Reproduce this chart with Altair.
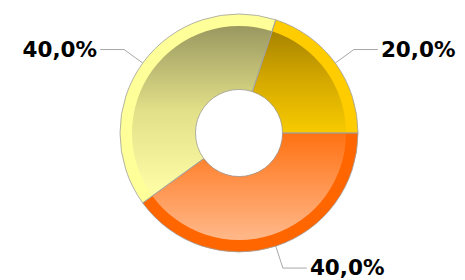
import math
import altair as alt
import pandas as pd

# ---- data ----
slices = ["A", "B", "C"]
values = [40, 40, 20]
band_colors = ["#FF6600", "#FFFF99", "#FFCC00"]
grad_top = ["#FF7212", "#9A9860", "#A88400"]
grad_mid = ["#FF9550", "#E2E088", "#D6AA00"]
grad_bottom = ["#FFB88A", "#FFFFA8", "#F7CA00"]

# ---- layout ----
W, H = 449, 272
CX, CY = 231, 125
R_OUT, R_GRAD, R_IN = 119, 107, 43.5
R_ELBOW = 142
START = math.pi / 2
total = sum(values)

df = pd.DataFrame({"slice": slices, "value": values, "idx": list(range(len(slices)))})

# leader lines + labels derived from slice mid-angles
line_rows, label_rows = [], []
cum = 0
for s, v in zip(slices, values):
    mid = START + 2 * math.pi * (cum + v / 2) / total
    cum += v
    sx, sy = math.sin(mid), -math.cos(mid)
    side = 1 if sx >= 0 else -1
    p0 = (R_OUT * sx, R_OUT * sy)
    p1 = (R_ELBOW * sx, R_ELBOW * sy)
    p2 = (p1[0] + side * 24, p1[1])
    for k, p in enumerate([p0, p1, p2]):
        line_rows.append({"slice": s, "k": k, "x": p[0], "y": p[1]})
    label_rows.append({
        "slice": s, "x": p2[0] + side * 3, "y": p2[1],
        "side": "right" if side > 0 else "left",
        "text": f"{100 * v / total:.1f}".replace(".", ",") + "%",
    })
lines_df = pd.DataFrame(line_rows)
labels_df = pd.DataFrame(label_rows)

xs = alt.Scale(domain=[-CX, W - CX], nice=False, zero=False)
ys = alt.Scale(domain=[-CY, H - CY], nice=False, zero=False, reverse=True)
theta_scale = alt.Scale(domain=[0, total], range=[START, START + 2 * math.pi])


def arc_base():
    return alt.Chart(df).transform_stack(
        stack="value", groupby=[], as_=["v0", "v1"],
        sort=[alt.SortField("idx", order="ascending")],
    )


arc_enc = dict(
    theta=alt.Theta("v0:Q", scale=theta_scale, stack=False),
    theta2=alt.Theta2("v1:Q"),
    x=alt.value(CX),
    y=alt.value(CY),
)

band = arc_base().mark_arc(radius=R_OUT, radius2=R_IN).encode(
    fill=alt.Fill("slice:N", scale=alt.Scale(domain=slices, range=band_colors), legend=None),
    **arc_enc,
)

grads = []
for i in range(len(slices)):
    g = alt.LinearGradient(
        gradient="linear",
        stops=[
            alt.GradientStop(offset=0, color=grad_top[i]),
            alt.GradientStop(offset=0.5, color=grad_mid[i]),
            alt.GradientStop(offset=1, color=grad_bottom[i]),
        ],
        x1=0, x2=0, y1=0, y2=1,
    )
    grads.append(
        arc_base().transform_filter(alt.datum.idx == i)
        .mark_arc(radius=R_GRAD, radius2=R_IN, fill=g)
        .encode(**arc_enc)
    )

outline = arc_base().mark_arc(
    radius=R_OUT, radius2=R_IN, fillOpacity=0, stroke="#A0A0A0", strokeWidth=0.8
).encode(**arc_enc)

leaders = alt.Chart(lines_df).mark_line(color="#A8A8A8", strokeWidth=1).encode(
    x=alt.X("x:Q", scale=xs, axis=None),
    y=alt.Y("y:Q", scale=ys, axis=None),
    detail="slice:N",
    order="k:Q",
)

text_common = dict(font="DejaVu Sans", fontWeight="bold", fontSize=21.5,
                   color="#000000", baseline="middle", dy=1)
labels_right = alt.Chart(labels_df).transform_filter(alt.datum.side == "right").mark_text(
    align="left", **text_common
).encode(x=alt.X("x:Q", scale=xs, axis=None), y=alt.Y("y:Q", scale=ys, axis=None), text="text:N")
labels_left = alt.Chart(labels_df).transform_filter(alt.datum.side == "left").mark_text(
    align="right", **text_common
).encode(x=alt.X("x:Q", scale=xs, axis=None), y=alt.Y("y:Q", scale=ys, axis=None), text="text:N")

chart = alt.layer(
    leaders, band, *grads, outline, labels_left, labels_right
).properties(
    width=W, height=H, autosize="none", padding=0, background="#FFFFFF"
).configure_view(stroke=None)

chart.save("out.html", embed_options={"renderer": "svg", "actions": False})
